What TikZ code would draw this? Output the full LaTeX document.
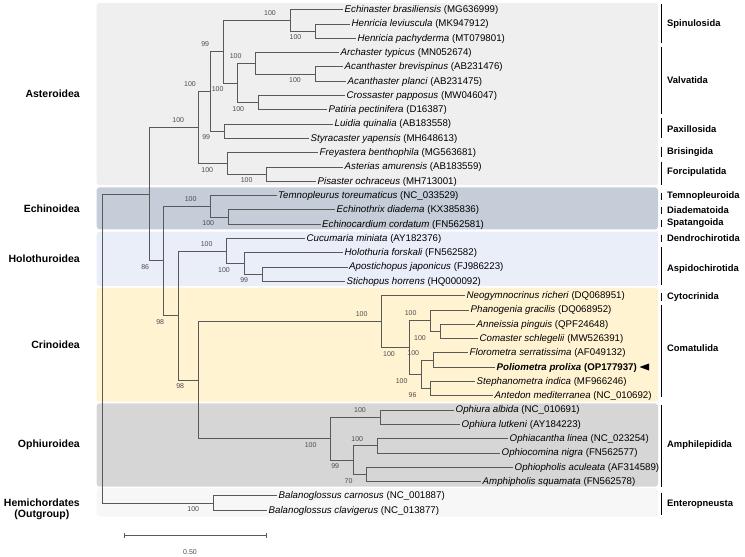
\documentclass[tikz,border=0pt]{standalone}
\usepackage{fontspec}
\setmainfont{Liberation Sans}
\usetikzlibrary{calc}
\definecolor{asterbg}{RGB}{239,239,239}
\definecolor{echinbg}{RGB}{196,205,216}
\definecolor{holobg}{RGB}{233,238,248}
\definecolor{crinbg}{RGB}{255,243,210}
\definecolor{ophiubg}{RGB}{214,214,214}
\definecolor{hemibg}{RGB}{247,247,247}
\tikzset{
	branch/.style={draw=black!65, line width=0.6pt},
	leaf/.style={anchor=west, inner xsep=1.5pt, inner ysep=0pt, text height=7.2pt, text depth=1.2pt, font=\fontsize{9.7}{10}\selectfont},
	boot/.style={anchor=east, inner sep=0pt, text=black!70, font=\fontsize{7}{8}\selectfont},
	bup/.style={boot, xshift=-14pt, yshift=7pt},
	bdn/.style={boot, xshift=-14pt, yshift=-6.5pt},
	panel/.style={rounded corners=3pt},
	bar/.style={line width=1.2pt},
	order/.style={anchor=west, inner sep=0pt, font=\fontsize{9.4}{10}\selectfont\bfseries},
	class/.style={anchor=east, inner sep=0pt, align=center, font=\fontsize{10.5}{11.5}\selectfont\bfseries}
}

\begin{document}
\begin{tikzpicture}[x=1pt, y=-1pt]
	%%%%% START %%%%%
	\useasboundingbox (0,0) rectangle (745,557);
	
	% class panels
	\fill[asterbg, panel] (96.7,3) rectangle (658,185);
	\fill[echinbg, panel] (96.7,187.3) rectangle (658,229.3);
	\fill[holobg, panel] (96.7,231.5) rectangle (658,286);
	\fill[crinbg, panel] (96.7,287.5) rectangle (658,401.7);
	\fill[ophiubg, panel] (96.7,403.3) rectangle (658,486.7);
	\fill[hemibg, panel] (96.7,488) rectangle (658,516.7);
	
	\node[class] (asteroidea) at (80,94) {Asteroidea};
	\node[class] (echinoidea) at (80,208.3) {Echinoidea};
	\node[class] (holothuroidea) at (80,258.8) {Holothuroidea};
	\node[class] (crinoidea) at (80,344.5) {Crinoidea};
	\node[class] (ophiuroidea) at (80,444.3) {Ophiuroidea};
	\node[class] (hemichordates) at (80,509.3) {Hemichordates\\(Outgroup)};
	
	% inner nodes of the tree
	\coordinate (R) at (102.7,348.4);
	\coordinate (E) at (149.3,194);
	\coordinate (H) at (213.3,502.85);
	\coordinate (A1) at (198.3,127.25);
	\coordinate (A2) at (210,91.3);
	\coordinate (A3) at (223.3,51.5);
	\coordinate (S1) at (290,20.2);
	\coordinate (S2) at (315.5,30.95);
	\coordinate (V1) at (237.7,82.8);
	\coordinate (V2) at (255.7,63.1);
	\coordinate (V3) at (315,73.85);
	\coordinate (V4) at (258.3,102.45);
	\coordinate (P1) at (224.3,131.05);
	\coordinate (A4) at (227.3,163.2);
	\coordinate (F1) at (266.7,173.95);
	\coordinate (N86) at (163.3,260.75);
	\coordinate (Ec1) at (210.7,206.1);
	\coordinate (Ec2) at (228.3,216.85);
	\coordinate (N98a) at (178.3,315.4);
	\coordinate (Ho1) at (226.7,250.8);
	\coordinate (Ho2) at (244,263.3);
	\coordinate (Ho3) at (262.3,274.05);
	\coordinate (N98b) at (198.3,379.95);
	\coordinate (C1) at (381.7,321.4);
	\coordinate (C2) at (409,347.3);
	\coordinate (C3) at (430.7,320.5);
	\coordinate (C4) at (440,331.25);
	\coordinate (C5) at (421.7,374.15);
	\coordinate (C6) at (433.3,359.85);
	\coordinate (C7) at (430.7,388.45);
	\coordinate (O1) at (330.7,438.5);
	\coordinate (O2) at (380,417.05);
	\coordinate (O3) at (353.3,459.95);
	\coordinate (O4) at (377.3,445.65);
	\coordinate (O5) at (366.7,474.25);
	
	% taxa
	\foreach \n/\x/\y/\sp/\acc in {
		echbra/343/9.5/Echinaster brasiliensis/MG636999,
		henlev/350/23.8/Henricia leviuscula/MK947912,
		henpac/356/38.1/Henricia pachyderma/MT079801,
		arctyp/339/52.4/Archaster typicus/MN052674,
		acabre/343/66.7/Acanthaster brevispinus/AB231476,
		acapla/346/81/Acanthaster planci/AB231475,
		cropap/345/95.3/Crossaster papposus/MW046047,
		patpec/327/109.6/Patiria pectinifera/D16387,
		luiqui/333/123.9/Luidia quinalia/AB183558,
		styyap/309/138.2/Styracaster yapensis/MH648613,
		freben/318/152.5/Freyastera benthophila/MG563681,
		astamu/343/166.8/Asterias amurensis/AB183559,
		pisoch/316/181.1/Pisaster ochraceus/MH713001,
		temtor/276.5/195.4/Temnopleurus toreumaticus/NC\_033529,
		echdia/335/209.7/Echinothrix diadema/KX385836,
		echcor/320.5/224/Echinocardium cordatum/FN562581,
		cucmin/305/238.3/Cucumaria miniata/AY182376,
		holfor/343/252.6/Holothuria forskali/FN562582,
		apojap/347.5/266.9/Apostichopus japonicus/FJ986223,
		stihor/345/281.2/Stichopus horrens/HQ000092,
		neoric/465/295.5/Neogymnocrinus richeri/DQ068951,
		phagra/469/309.8/Phanogenia gracilis/DQ068952,
		annpin/475/324.1/Anneissia pinguis/QPF24648,
		comsch/478/338.4/Comaster schlegelii/MW526391,
		floser/468/352.7/Florometra serratissima/AF049132,
		steind/475/381.3/Stephanometra indica/MF966246,
		antmed/493/395.6/Antedon mediterranea/NC\_010692,
		ophalb/454/409.9/Ophiura albida/NC\_010691,
		ophlut/460/424.2/Ophiura lutkeni/AY184223,
		ophlin/508/438.5/Ophiacantha linea/NC\_023254,
		ophnig/500/452.8/Ophiocomina nigra/FN562577,
		ophacu/513/467.1/Ophiopholis aculeata/AF314589,
		ampsqu/481/481.4/Amphipholis squamata/FN562578,
		balcar/277/495.7/Balanoglossus carnosus/NC\_001887,
		balcla/267/510/Balanoglossus clavigerus/NC\_013877}
		\node[leaf] (\n) at (\x,\y) {\textit{\sp} (\acc)};
	\node[leaf, font=\fontsize{9.7}{10}\selectfont\bfseries] (polpro) at (495,367) {\textit{Poliometra prolixa} (OP177937)};
	\fill (639.5,367) -- (649,363.5) -- (649,370.5) -- cycle;
	
	% branches
	\foreach \p/\c in {R/E, R/H, E/A1, E/N86, A1/A2, A1/A4, A2/A3, A2/P1, A3/S1, A3/V1,
		S1/echbra, S1/S2, S2/henlev, S2/henpac, V1/V2, V1/V4, V2/arctyp, V2/V3, V3/acabre, V3/acapla,
		V4/cropap, V4/patpec, P1/luiqui, P1/styyap, A4/freben, A4/F1, F1/astamu, F1/pisoch,
		N86/Ec1, N86/N98a, Ec1/temtor, Ec1/Ec2, Ec2/echdia, Ec2/echcor,
		N98a/Ho1, N98a/N98b, Ho1/cucmin, Ho1/Ho2, Ho2/holfor, Ho2/Ho3, Ho3/apojap, Ho3/stihor,
		N98b/C1, N98b/O1, C1/neoric, C1/C2, C2/C3, C2/C5, C3/phagra, C3/C4, C4/annpin, C4/comsch,
		C5/C6, C5/C7, C6/floser, C6/polpro, C7/steind, C7/antmed,
		O1/O2, O1/O3, O2/ophalb, O2/ophlut, O3/O4, O3/O5, O4/ophlin, O4/ophnig, O5/ophacu, O5/ampsqu,
		H/balcar, H/balcla}
		\draw[branch] (\p) |- (\c);
	
	% bootstrap values
	\foreach \c in {A1, A2, S1, V2, Ec1, Ho1, C1, C3, C6, O2, O4}
		\node[bup] at (\c) {100};
	\node[bup] at (A3) {99};
	\foreach \c in {S2, V1, V3, V4, A4, F1, Ec2, Ho2, C2, C4, C5, O1, H}
		\node[bdn] at (\c) {100};
	\node[bdn] at (P1) {99};
	\node[bdn] at (Ho3) {99};
	\node[bdn] at (O3) {99};
	\node[bdn] at (N86) {86};
	\node[bdn] at (N98a) {98};
	\node[bdn] at (N98b) {98};
	\node[bdn] at (C7) {96};
	\node[bdn] at (O5) {70};
	
	% orders
	\foreach \ya/\yb/\yl/\ord in {3.5/42.5/24/Spinulosida, 46.5/113.5/80/Valvatida,
		118/137.5/129.5/Paxillosida, 146.5/157/152/Brisingida, 161.5/185/172/Forcipulatida,
		192.5/200/196/Temnopleuroida, 206.5/213.5/210/Diadematoida, 220/227/223.5/Spatangoida,
		234.5/242/238/Dendrochirotida, 246.5/285/269/Aspidochirotida, 293/300.5/297/Cytocrinida,
		305/397/348.5/Comatulida, 405/487/445/Amphilepidida, 492.5/515/504/Enteropneusta}
	{
		\draw[bar] (661.5,\ya) -- (661.5,\yb);
		\node[order] (\ord) at (667,\yl) {\ord};
	}
	
	% scale bar
	\coordinate (sbl) at (124.3,535.7);
	\coordinate (sbr) at (266,535.7);
	\draw[branch] (sbl) -- (sbr);
	\draw[branch] ($(sbl)+(0,-2.5)$) -- ($(sbl)+(0,2.5)$);
	\draw[branch] ($(sbr)+(0,-2.5)$) -- ($(sbr)+(0,2.5)$);
	\node[boot, anchor=center] (scale) at (190,552) {0.50};
	%%%%% END %%%%%
\end{tikzpicture}
\end{document}
